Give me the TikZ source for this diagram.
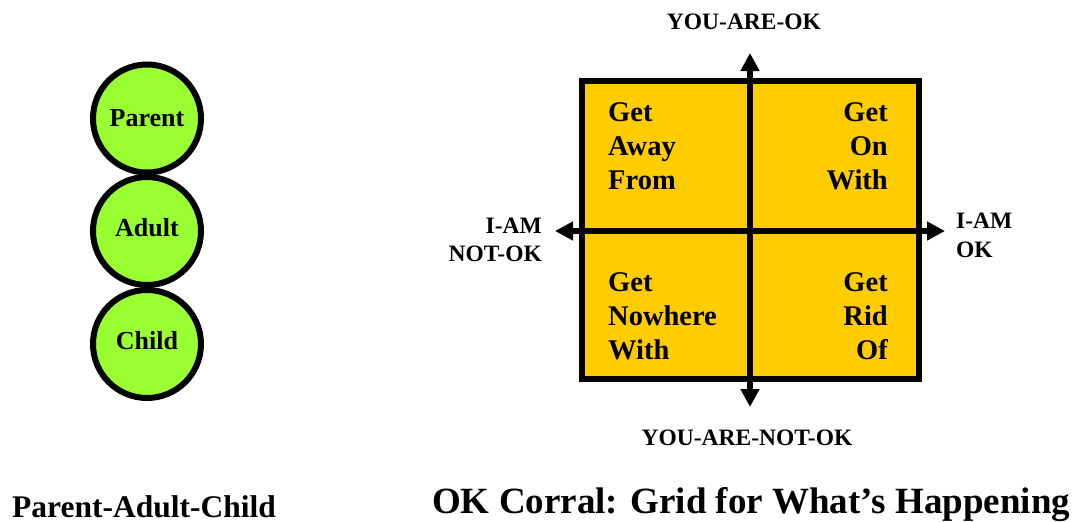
\documentclass[tikz,border=0pt]{standalone}
\usepackage{fontspec}
\setmainfont{Liberation Serif}
\usetikzlibrary{arrows.meta}
\definecolor{circgreen}{HTML}{99FF33}
\definecolor{gridgold}{HTML}{FFCC00}
\begin{document}
\begin{tikzpicture}[x=1pt,y=-1pt,
  pac/.style={circle,draw=black,line width=6pt,fill=circgreen,minimum size=108pt,inner sep=0pt,font=\bfseries\fontsize{26}{30}\selectfont},
  quad/.style={inner sep=0pt,font=\bfseries\fontsize{28.5}{34}\selectfont},
  axlabel/.style={inner sep=0pt,font=\bfseries\fontsize{23.5}{28.5}\selectfont},
  axisline/.style={line width=6pt,{Triangle[length=18pt,width=18pt]}-{Triangle[length=18pt,width=18pt]}},
  captext/.style={inner sep=0pt,anchor=base west}]
\useasboundingbox (0,0) rectangle (1080,522);
% Parent-Adult-Child circles
\node[pac,text depth=2pt] (parent) at (147,118.5) {Parent};
\node[pac,text depth=8pt] (adult) at (147,231) {Adult};
\node[pac,text depth=8pt] (child) at (147,344) {Child};
% OK Corral grid
\node[draw=black,line width=6pt,fill=gridgold,minimum width=336.5pt,minimum height=298pt,inner sep=0pt,outer sep=0pt] (grid) at (750.25,230) {};
\coordinate (ytop) at (750,53);
\coordinate (ybot) at (750,407);
\coordinate (xleft) at (555,231);
\coordinate (xright) at (945,231);
\draw[axisline] (ybot) -- (ytop);
\draw[axisline] (xleft) -- (xright);
% quadrant texts
\node[quad,anchor=north west,align=left] (q1) at (608,102) {Get\\Away\\From};
\node[quad,anchor=north east,align=right] (q2) at (888,102) {Get\\On\\With};
\node[quad,anchor=north west,align=left] (q3) at (608,272) {Get\\Nowhere\\With};
\node[quad,anchor=north east,align=right] (q4) at (888,272) {Get\\Rid\\Of};
% axis labels
\node[axlabel,anchor=base] (yok) at (744,29) {YOU-ARE-OK};
\node[axlabel,anchor=base] (ynok) at (747,445) {YOU-ARE-NOT-OK};
\node[axlabel,anchor=north east,align=right] (inok) at (542,217.5) {I-AM\\NOT-OK};
\node[axlabel,anchor=north west,align=left] (iok) at (956,213) {I-AM\\OK};
% captions
\node[captext,font=\bfseries\fontsize{31.5}{36}\selectfont] (pactitle) at (12,517) {Parent-Adult-Child};
\node[captext,font=\bfseries\fontsize{37}{42}\selectfont] (oktitle) at (432,513) {OK Corral: Grid for What’s Happening};
\end{tikzpicture}
\end{document}
